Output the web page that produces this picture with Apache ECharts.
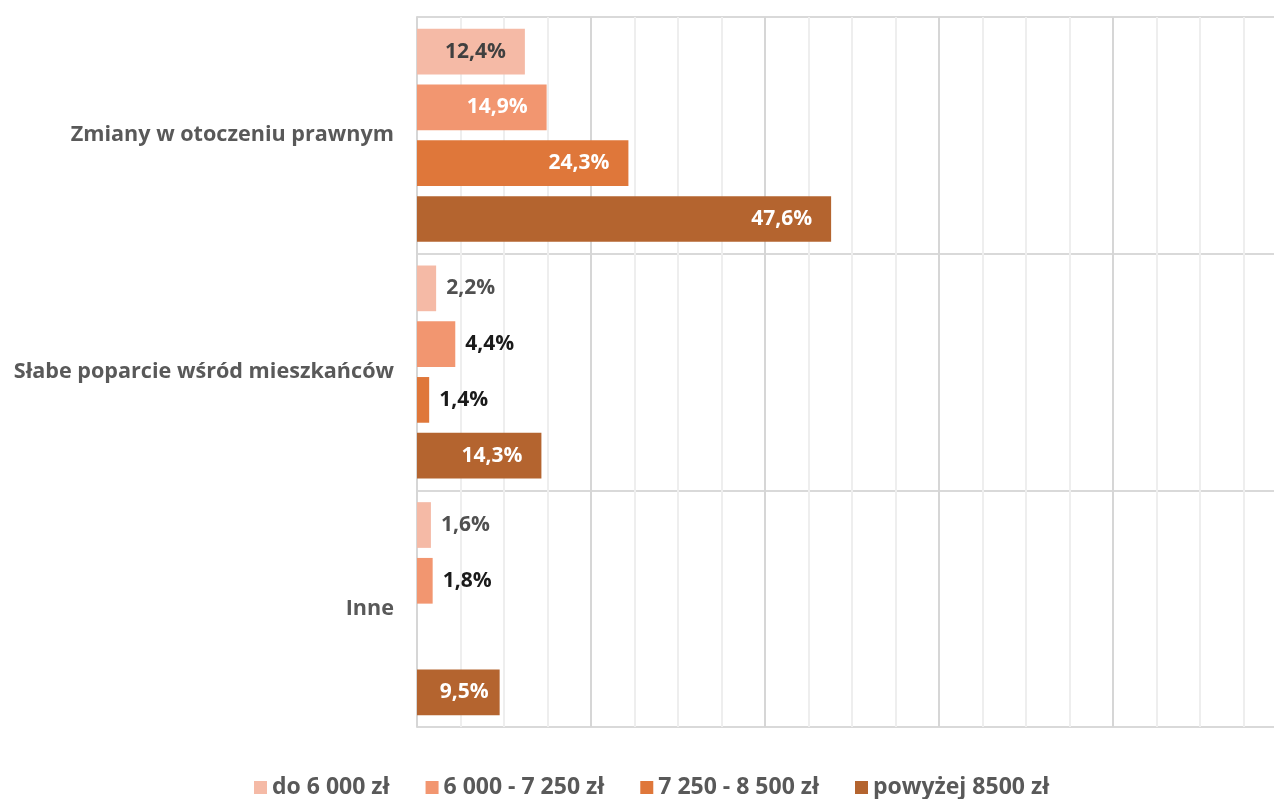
<!DOCTYPE html>
<html>
<head>
<meta charset="utf-8">
<script src="https://cdn.jsdelivr.net/npm/echarts@6/dist/echarts.min.js"></script>
<style>
html,body{margin:0;padding:0;background:#fff;}
#chart{width:1274px;height:799px;}
</style>
</head>
<body>
<div id="chart"></div>
<script>
const categories = ['Zmiany w otoczeniu prawnym', 'Słabe poparcie wśród mieszkańców', 'Inne'];
const seriesNames = ['do 6 000 zł', '6 000 - 7 250 zł', '7 250 - 8 500 zł', 'powyżej 8500 zł'];
const valsDo6000 = [12.4, 2.2, 1.6];
const vals6000_7250 = [14.9, 4.4, 1.8];
const vals7250_8500 = [24.3, 1.4, 0];
const valsPowyzej8500 = [47.6, 14.3, 9.5];
const seriesColors = ['#F5BAA6', '#F29670', '#DF773A', '#B4642F'];

const allVals = [valsDo6000, vals6000_7250, vals7250_8500, valsPowyzej8500];
const FONT = '"Open Sans", "Noto Sans", sans-serif';
const fmt = v => v.toFixed(1).replace('.', ',') + '%';

const series = allVals.map((vals, si) => ({
  name: seriesNames[si],
  type: 'bar',
  barGap: '22%',
  barCategoryGap: '10%',
  itemStyle: { color: seriesColors[si] },
  data: vals.map(v => {
    const inside = v >= 5;
    return {
      value: v,
      label: {
        show: v > 0,
        position: inside ? 'insideRight' : 'right',
        distance: inside ? (v < 10 ? 11 : 19) : 10,
        color: inside ? (si === 0 ? '#404040' : '#ffffff') : (si === 0 ? '#505050' : '#1a1a1a'),
        fontFamily: FONT,
        fontWeight: 'bold',
        fontSize: 21,
        padding: [3, 0, 0, 0],
        formatter: p => fmt(p.value)
      }
    };
  })
}));

const chart = echarts.init(document.getElementById('chart'), null, { renderer: 'canvas' });
chart.setOption({
  animation: false,
  backgroundColor: '#ffffff',
  grid: { left: 417, top: 17, width: 870, height: 710, containLabel: false, outerBoundsMode: 'none' },
  legend: {
    left: 249,
    top: 771,
    itemWidth: 13,
    itemHeight: 13,
    itemGap: 36,
    icon: 'rect',
    textStyle: { fontFamily: FONT, fontWeight: 'bold', fontSize: 23, color: '#595959' },
    data: seriesNames
  },
  xAxis: {
    type: 'value',
    min: 0,
    max: 100,
    interval: 20,
    axisLabel: { show: false },
    axisLine: { show: false },
    axisTick: { show: false },
    splitLine: { show: true, lineStyle: { color: '#d6d6d6', width: 2 } },
    minorTick: { show: false, splitNumber: 4 },
    minorSplitLine: { show: true, lineStyle: { color: '#eeeeee', width: 2 } }
  },
  yAxis: {
    type: 'category',
    data: categories,
    inverse: true,
    axisLine: { show: true, lineStyle: { color: '#d6d6d6', width: 2 } },
    axisTick: { show: false },
    splitLine: { show: true, lineStyle: { color: '#d9d9d9', width: 2 } },
    axisLabel: {
      fontFamily: FONT,
      fontWeight: 'bold',
      fontSize: 21.6,
      color: '#595959',
      margin: 23,
      padding: [5, 0, 0, 0]
    }
  },
  series: series
});
</script>
</body>
</html>
